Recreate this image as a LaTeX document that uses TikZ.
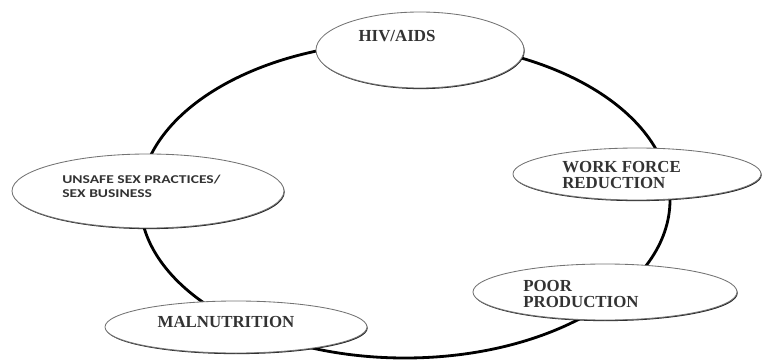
\documentclass[tikz,border=0pt]{standalone}
\usepackage{fontspec}
\setmainfont{Liberation Serif}
\newfontfamily\causefont[FakeStretch=1.3]{Carlito}
\usetikzlibrary{shapes.geometric,shadows}
\tikzset{
  bubble/.style={ellipse,draw=black!55,line width=0.6pt,fill=white,inner sep=0pt,
    drop shadow={shadow xshift=0.5pt,shadow yshift=-0.8pt,fill=black,opacity=0.85}},
  tag/.style={font=\fontsize{12}{11.5}\selectfont\bfseries,text=black!80,align=left,inner sep=0pt}
}
\begin{document}
\begin{tikzpicture}
\useasboundingbox (0,0) rectangle (19.075,9);
% the cycle
\draw[line width=2pt] (10.125,4.0) ellipse (6.625 and 3.95);
% causes and effects on the cycle
\node[bubble,minimum width=5.2cm,minimum height=1.9cm] (hiv) at (10.5,7.75) {};
\node[bubble,minimum width=6.2cm,minimum height=1.3cm] (work) at (15.925,4.65) {};
\node[bubble,minimum width=6.6cm,minimum height=1.4cm] (poor) at (15.125,1.7) {};
\node[bubble,minimum width=6.55cm,minimum height=1.3cm] (mal) at (5.9,0.825) {};
\node[bubble,minimum width=6.8cm,minimum height=1.85cm] (unsafe) at (3.7,4.225) {};
% texts
\node[tag] (hivtext) at (9.925,8.1) {HIV/AIDS};
\node[tag,anchor=west] (worktext) at (14.05,4.625) {WORK FORCE\\REDUCTION};
\node[tag,anchor=west] (poortext) at (13.075,1.64) {POOR\\PRODUCTION};
\node[tag] (maltext) at (5.65,0.95) {MALNUTRITION};
\node[tag,anchor=west,font={\causefont\bfseries\fontsize{8.5}{10}\selectfont}] (unsafetext) at (1.55,4.35) {UNSAFE SEX PRACTICES/\\SEX BUSINESS};
\end{tikzpicture}
\end{document}
